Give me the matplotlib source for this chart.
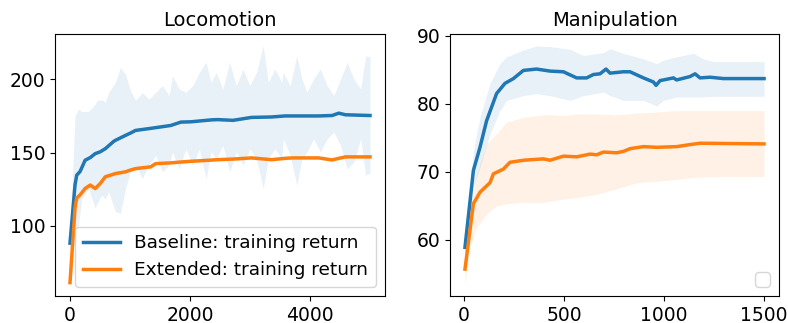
import numpy as np
import matplotlib.pyplot as plt

# Locomotion: mean training return per run step
loco_x = [0, 84, 112, 168, 252, 336, 420, 504, 588, 728, 756, 924, 1008, 1092,
          1344, 1428, 1680, 1848, 2016, 2352, 2464, 2716, 3024, 3360, 3584,
          3696, 4144, 4368, 4480, 4592, 5000]
loco_base = [88, 128, 134.5, 137, 144.7, 146.5, 149.2, 150.5, 152.6, 157.6, 158.3,
             161.7, 163.3, 165.1, 166.5, 167, 168.5, 170.8, 171, 172.3, 172.5,
             172.0, 174, 174.3, 175, 175, 175, 175.3, 176.9, 175.8, 175.3]
loco_ext = [61, 112, 119, 121, 125.4, 127.7, 125.4, 128.8, 133.4, 135.2, 135.6,
            136.8, 138, 139, 140.2, 142.4, 142.9, 143.5, 144, 144.8, 145.1,
            145.5, 146.3, 145.1, 146, 146.3, 146.3, 144.9, 146, 147, 147]

# Locomotion: spread of the baseline runs
loco_band_x = [0, 84, 140, 196, 308, 420, 448, 532, 588, 644, 756, 840, 924,
               1008, 1092, 1204, 1316, 1428, 1540, 1652, 1708, 1820, 1932, 2044,
               2156, 2268, 2352, 2436, 2548, 2660, 2772, 2884, 2996, 3108, 3220,
               3304, 3416, 3528, 3556, 3668, 3780, 3864, 3948, 4060, 4172, 4284,
               4396, 4508, 4620, 4732, 4844, 4928, 5000]
loco_band_hi = [92, 175.3, 179.8, 178, 178, 183, 185.5, 186, 184.4, 191, 198,
                208, 203.6, 192.3, 185.7, 191, 186.6, 191, 195.7, 188.9, 202.5,
                193.4, 191.2, 195.7, 204.8, 211.6, 198, 204.8, 193.4, 211.6,
                195.7, 207, 195.7, 204.8, 222.9, 198, 207, 198, 204.8, 195.7,
                216.1, 200.2, 191.2, 200.2, 207, 195.7, 188.9, 200.2, 211.6,
                200.2, 193.4, 216.1, 215.4]
loco_band_lo = [84, 87, 100, 118.6, 125.4, 111.8, 115, 120.9, 118, 123.2, 109.6,
                108.4, 125.4, 136.8, 141.3, 132.2, 141.3, 148.1, 136.8, 141.4,
                150.4, 139, 152.6, 141.3, 152.6, 132.2, 150.4, 145.8, 154.9,
                136.8, 150.4, 141.3, 152.6, 145.8, 125.4, 145.8, 152.6, 145.8,
                159.4, 148.1, 127.7, 145.8, 150.4, 159.4, 150.4, 159.4, 163.9,
                154.9, 139, 143.6, 159.4, 134.5, 136]

# Locomotion: spread of the extended runs (narrow)
loco_ext_sd = [1.0, 2.0, 2.0, 2.0, 2.0, 2.0, 2.0, 2.0, 1.5, 1.5, 1.5, 1.2, 1.2,
               1.0, 1.0, 1.0, 0.8, 0.8, 0.8, 0.8, 0.8, 0.8, 0.8, 0.8, 0.8, 0.8,
               0.8, 0.8, 0.8, 0.8, 0.8]

# Manipulation: mean success per step
mani_x = [5, 47, 80, 113, 163, 205, 247, 297, 363, 430, 497, 563, 613, 647, 680,
          710, 730, 797, 830, 897, 947, 960, 980, 1047, 1063, 1130, 1155, 1180,
          1230, 1297, 1500]
mani_base = [58.9, 70.2, 73.6, 77.5, 81.5, 83, 83.7, 84.9, 85.1, 84.8, 84.7, 83.8,
             83.8, 84.3, 84.4, 85.1, 84.5, 84.7, 84.7, 83.8, 83.2, 82.7, 83.4,
             83.8, 83.5, 84.0, 84.4, 83.8, 83.9, 83.7, 83.7]

mani_ext_x = [5, 47, 80, 130, 147, 197, 230, 297, 397, 430, 497, 563, 630, 663,
              697, 763, 797, 830, 897, 963, 1063, 1130, 1180, 1500]
mani_ext = [55.7, 65.3, 67, 68.4, 69.7, 70.4, 71.4, 71.7, 71.9, 71.7, 72.3, 72.2,
            72.6, 72.5, 72.9, 72.8, 73.0, 73.4, 73.7, 73.6, 73.7, 74.0, 74.2,
            74.1]

mani_base_band_x = [5, 47, 80, 130, 180, 213, 297, 363, 430, 530, 597, 697, 730,
                    797, 897, 963, 997, 1063, 1147, 1197, 1247, 1500]
mani_base_hi = [60, 73.1, 78, 83, 85.9, 86.9, 87.9, 88.5, 88.4, 88, 87.1, 87.5,
                88.1, 87.4, 86.6, 85.9, 86.4, 86.9, 87.4, 86.6, 86.2, 86.2]
mani_base_lo = [58, 67.7, 70.6, 75.6, 79, 80.5, 81.2, 81.5, 81.2, 80.5, 81.2,
                81.7, 81.2, 80.5, 80.5, 79.7, 80.5, 81, 81, 81, 81.1, 81.1]

mani_ext_band_x = [5, 30, 63, 113, 163, 213, 297, 397, 497, 563, 663, 763, 863,
                   963, 1063, 1163, 1263, 1500]
mani_ext_hi = [58, 64.7, 69.7, 74.1, 75.6, 77.3, 78, 78.4, 78.3, 78.5, 78.5, 78.4,
               78.6, 78.8, 79, 79, 79, 79]
mani_ext_lo = [53.5, 58.9, 61.8, 63.8, 65, 65.3, 65.5, 65.5, 66, 66.2, 66.7,
               67.5, 68.4, 68.6, 68.9, 69.2, 69.3, 69.3]

blue = "#1f77b4"
orange = "#ff7f0e"

fig = plt.figure(figsize=(7.88, 3.23), dpi=100)
ax1 = fig.add_axes([0.0698, 0.0836, 0.4188, 0.8111])
ax2 = fig.add_axes([0.5711, 0.0836, 0.4175, 0.8111])

ax1.fill_between(loco_band_x, loco_band_lo, loco_band_hi, color=blue, alpha=0.1, lw=0)
ext = np.array(loco_ext)
sd = np.array(loco_ext_sd)
ax1.fill_between(loco_x, ext - sd, ext + sd, color=orange, alpha=0.1, lw=0)
ax1.plot(loco_x, loco_base, color=blue, lw=2.5, label="Baseline: training return")
ax1.plot(loco_x, loco_ext, color=orange, lw=2.5, label="Extended: training return")
ax1.set_title("Locomotion", fontsize=14)
ax1.set_yticks([100, 150, 200])
ax1.set_xticks([0, 2000, 4000])
ax1.tick_params(labelsize=13.5)
ax1.legend(loc="lower right", fontsize=13.3)

ax2.fill_between(mani_base_band_x, mani_base_lo, mani_base_hi, color=blue, alpha=0.1, lw=0)
ax2.fill_between(mani_ext_band_x, mani_ext_lo, mani_ext_hi, color=orange, alpha=0.1, lw=0)
ax2.plot(mani_x, mani_base, color=blue, lw=2.5)
ax2.plot(mani_ext_x, mani_ext, color=orange, lw=2.5)
ax2.set_title("Manipulation", fontsize=14)
ax2.set_yticks([60, 70, 80, 90])
ax2.set_xticks([0, 500, 1000, 1500])
ax2.tick_params(labelsize=13.5)
ax2.legend(loc="lower right", fontsize=13.3)

fig.savefig("out.png", dpi=100)
